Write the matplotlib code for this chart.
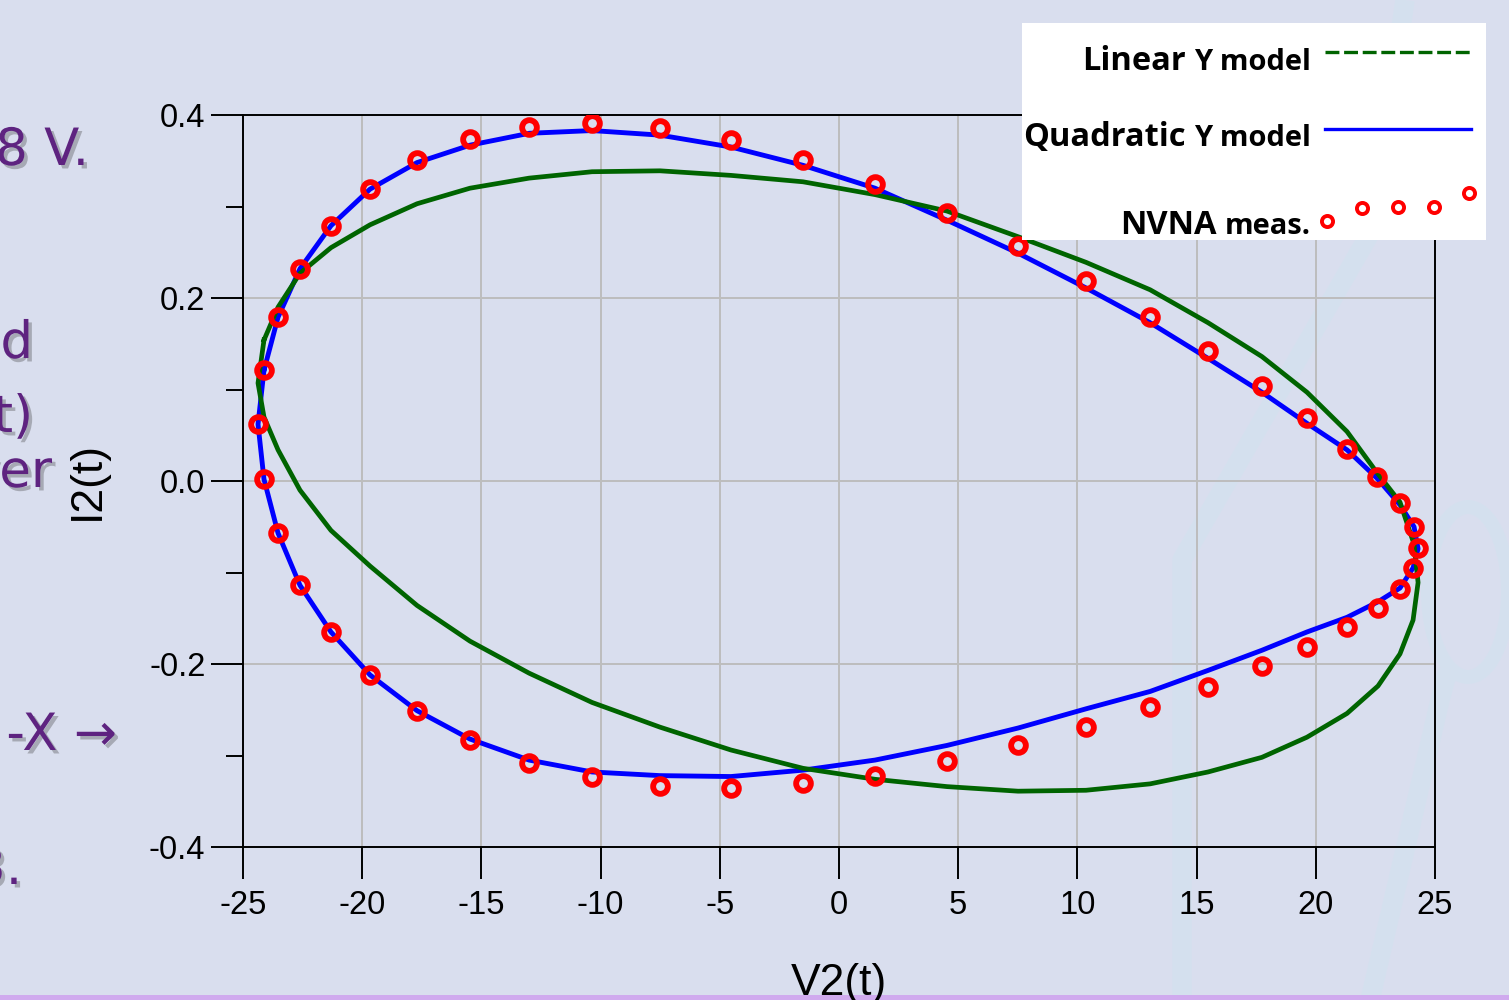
import matplotlib
matplotlib.use('Agg')
import matplotlib.pyplot as plt
import matplotlib.patheffects as pe
from matplotlib.patches import Rectangle, Ellipse

# V2(t) samples (measured), shared by measurement and both models
v2 = [-24.12, -24.37, -24.12, -23.53, -22.61, -21.31, -19.67, -17.70, -15.48, -13.00,
      -10.36, -7.51, -4.53, -1.51, 1.51, 4.53, 7.51, 10.36, 13.05, 15.48,
      17.74, 19.63, 21.31, 22.61, 23.53, 24.08, 24.29, 24.12, 23.53, 22.57,
      21.31, 19.63, 17.74, 15.48, 13.05, 10.36, 7.51, 4.53, 1.51, -1.51,
      -4.53, -7.51, -10.36, -13.00, -15.48, -17.70, -19.67, -21.31, -22.61, -23.53]

# NVNA measured I2(t)
i2_meas = [0.121, 0.062, 0.002, -0.057, -0.114, -0.165, -0.212, -0.251, -0.283, -0.308,
           -0.323, -0.333, -0.336, -0.330, -0.322, -0.306, -0.289, -0.269, -0.247, -0.225,
           -0.202, -0.181, -0.160, -0.139, -0.118, -0.095, -0.073, -0.050, -0.024, 0.004,
           0.035, 0.069, 0.104, 0.142, 0.179, 0.219, 0.257, 0.293, 0.325, 0.351,
           0.373, 0.386, 0.391, 0.387, 0.374, 0.351, 0.319, 0.279, 0.232, 0.179]

# Quadratic Y model I2(t)
i2_quad = [0.121, 0.062, 0.002, -0.057, -0.114, -0.165, -0.212, -0.251, -0.282, -0.305,
           -0.318, -0.322, -0.323, -0.316, -0.305, -0.289, -0.270, -0.249, -0.230, -0.207,
           -0.185, -0.165, -0.149, -0.132, -0.117, -0.095, -0.074, -0.050, -0.026, 0.003,
           0.034, 0.063, 0.097, 0.134, 0.173, 0.211, 0.249, 0.285, 0.320, 0.345,
           0.365, 0.378, 0.383, 0.380, 0.367, 0.348, 0.319, 0.279, 0.232, 0.179]

# Linear Y model I2(t)
i2_lin = [0.154, 0.107, 0.070, 0.034, -0.010, -0.054, -0.093, -0.136, -0.175, -0.210,
          -0.242, -0.269, -0.294, -0.314, -0.326, -0.334, -0.339, -0.338, -0.331, -0.318,
          -0.302, -0.280, -0.254, -0.224, -0.189, -0.152, -0.111, -0.069, -0.023, 0.009,
          0.054, 0.097, 0.136, 0.173, 0.209, 0.239, 0.267, 0.295, 0.313, 0.327,
          0.334, 0.339, 0.338, 0.331, 0.320, 0.303, 0.280, 0.255, 0.227, 0.190]

x_ticks = [-25, -20, -15, -10, -5, 0, 5, 10, 15, 20, 25]
y_ticks = [-0.4, -0.2, 0.0, 0.2, 0.4]
y_minor = [-0.3, -0.1, 0.1, 0.3]

# slide text fragments visible at the left edge (text, right edge px, baseline px)
side_text = [("8 V.", 89, 165), ("nd", 33, 358), ("(t)", 33, 432),
             ("ver", 52, 487), ("-X \u2192", 117, 750), ("3.", 22, 884)]

W, H = 1509, 1000
BG = '#D9DEEE'
PURPLE = '#5E2380'

plt.rcParams['axes.unicode_minus'] = False
plt.rcParams['lines.scale_dashes'] = False

fig = plt.figure(figsize=(W / 100, H / 100), dpi=100, facecolor=BG)

# background decoration in pixel coordinates
bg = fig.add_axes([0, 0, 1, 1], zorder=0)
bg.set_xlim(0, W)
bg.set_ylim(H, 0)
bg.axis('off')
band = dict(color='#D4E1EF', lw=14, solid_capstyle='butt', alpha=0.9)
bg.plot([1182, 1182, 1372, 1405], [1000, 560, 230, 0], **band)
bg.plot([1370, 1440, 1448], [1000, 700, 670], **band)
bg.add_patch(Ellipse((1468, 592), 80, 170, fill=False, ec='#D4E1EF', lw=10, alpha=0.9))
bg.add_patch(Rectangle((0, 995), W, 5, color='#D0AAEE', lw=0, zorder=5))

for txt, xr, yb in side_text:
    fig.text(xr / W, 1 - yb / H, txt, ha='right', va='baseline', fontsize=37,
             color=PURPLE, family='DejaVu Sans',
             path_effects=[pe.withSimplePatchShadow(offset=(2.5, -2.5), shadow_rgbFace='#303030', alpha=0.3)])

# main plot
ax = fig.add_axes([243 / W, 1 - 847 / H, 1192 / W, 732 / H], zorder=1)
ax.patch.set_alpha(0)

ax.plot(v2 + v2[:1], i2_quad + i2_quad[:1], color='#0000FF', lw=3.5, zorder=3)
ax.plot(v2 + v2[:1], i2_lin + i2_lin[:1], color='#006400', lw=3.4, zorder=4)
ax.plot(v2, i2_meas, ls='none', marker='o', ms=10.6, mew=4.2, mec='#FF0000', mfc='none', zorder=5)

ax.set_xlim(-25, 25)
ax.set_ylim(-0.4, 0.4)
ax.set_xticks(x_ticks)
ax.set_xticklabels([str(v) for v in x_ticks])
ax.set_yticks(y_ticks)
ax.set_yticklabels(['%.1f' % v for v in y_ticks])
ax.set_yticks(y_minor, minor=True)
ax.grid(True, which='major', color='#BDBDBD', lw=1.4, zorder=1)
ax.set_axisbelow(True)

for s in ax.spines.values():
    s.set_linewidth(1.4)
ax.tick_params(axis='both', which='major', direction='out', length=23, width=1.4,
               labelsize=23.5, colors='black')
ax.tick_params(axis='x', which='major', pad=8)
ax.tick_params(axis='y', which='major', pad=4)
ax.tick_params(axis='y', which='minor', direction='out', length=12, width=1.4)
for lab in ax.get_xticklabels() + ax.get_yticklabels():
    lab.set_family('Liberation Sans')

ax.set_xlabel('V2(t)', fontsize=32, family='Liberation Sans')
ax.xaxis.set_label_coords(0.5, -0.158)
ax.set_ylabel('I2(t)', fontsize=32, family='Liberation Sans')
ax.yaxis.set_label_coords(-0.113, 0.5)

# legend box (pasted image in the slide), local pixel coordinates
leg = fig.add_axes([1022 / W, 1 - 240 / H, 464 / W, 217 / H], zorder=2)
leg.set_xlim(0, 464)
leg.set_ylim(217, 0)
leg.set_facecolor('white')
leg.set_xticks([])
leg.set_yticks([])
for s in leg.spines.values():
    s.set_visible(False)

leg.plot([303, 449], [29, 29], color='#006400', lw=2.4, ls=(0, (10, 3.4)))
leg.plot([303, 449], [106, 106], color='#0000FF', lw=2.4)
leg.plot([305, 340, 376, 412, 447], [198, 185, 184, 184, 170], ls='none', marker='o',
         ms=8, mew=2.8, mec='#FF0000', mfc='none')

renderer = fig.canvas.get_renderer()
for big, small, yb in [('Linear', 'Y model', 47), ('Quadratic', 'Y model', 123), ('NVNA', 'meas.', 211)]:
    ts = leg.text(289, yb, small, ha='right', va='baseline', fontsize=21,
                  fontweight='bold', family='Open Sans')
    bb = ts.get_window_extent(renderer)
    x0 = leg.transData.inverted().transform((bb.x0, bb.y0))[0]
    leg.text(x0 - 8, yb, big, ha='right', va='baseline', fontsize=23.5,
             fontweight='bold', family='Open Sans')

fig.savefig('out.png', dpi=100, facecolor=BG)
plt.close(fig)
